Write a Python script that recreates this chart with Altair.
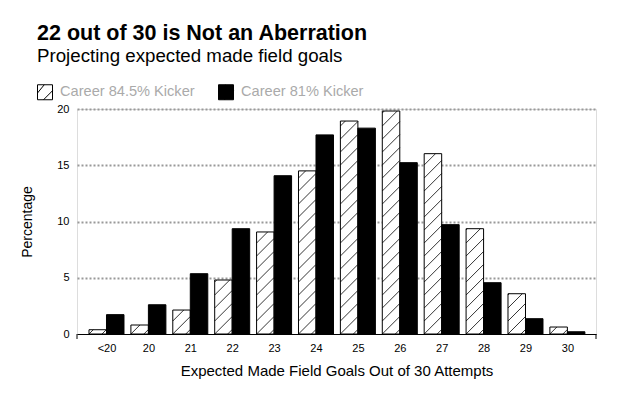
import json
import altair as alt
import pandas as pd

# ---- data ----
labels = ["<20", "20", "21", "22", "23", "24", "25", "26", "27", "28", "29", "30"]
series = ["Career 84.5% Kicker", "Career 81% Kicker"]
career_845 = [0.38, 0.80, 2.13, 4.80, 9.07, 14.50, 18.93, 19.82, 16.03, 9.36, 3.58, 0.62]
career_81 = [1.72, 2.60, 5.36, 9.36, 14.07, 17.70, 18.30, 15.23, 9.72, 4.56, 1.36, 0.20]
y_ticks = [0, 5, 10, 15, 20]

# ---- layout / style constants ----
W, H = 519, 225
XDOM = [-0.704, 11.683]
YDOM = [0, 20]
PX = W / (XDOM[1] - XDOM[0])   # px per x unit
PY = H / (YDOM[1] - YDOM[0])   # px per y unit
BW = 17.5 / PX                 # width of one bar in x units
S = 13.0                       # hatch spacing in px
FONT = "Liberation Sans"

rows = []
for i, lab in enumerate(labels):
    rows.append({"idx": i, "label": lab, "series": series[0], "sidx": 0, "value": career_845[i]})
    rows.append({"idx": i, "label": lab, "series": series[1], "sidx": 1, "value": career_81[i]})
df = pd.DataFrame(rows)

xscale = alt.Scale(domain=XDOM, nice=False, zero=False)
yscale = alt.Scale(domain=YDOM, nice=False, zero=False)

legend_path = "M-1,-1H1V1H-1Z M-1,0.1L-0.1,-1 M-0.2,1L1,-0.2"

base = alt.Chart(df)

bars = base.transform_calculate(
    x0=f"datum.idx - {BW} + datum.sidx*{BW}",
    x1=f"datum.idx + datum.sidx*{BW}",
).mark_rect(stroke="black", strokeWidth=1).encode(
    x=alt.X(
        "x0:Q",
        scale=xscale,
        axis=alt.Axis(
            values=list(range(len(labels))),
            labelExpr=f"{json.dumps(labels)}[datum.value]",
            ticks=False,
            grid=False,
            domainColor="black",
            domainWidth=1,
            labelFontSize=11,
            labelColor="black",
            labelFont=FONT,
            labelPadding=8,
            labelFlush=False,
            labelOverlap=False,
            title="Expected Made Field Goals Out of 30 Attempts",
            titleFont=FONT,
            titleFontSize=15,
            titleFontWeight="normal",
            titleColor="black",
            titlePadding=10,
        ),
    ),
    x2="x1:Q",
    y=alt.Y(
        "value:Q",
        scale=yscale,
        axis=alt.Axis(
            values=y_ticks,
            domain=False,
            ticks=False,
            grid=True,
            gridDash=[2, 2],
            gridColor="#999999",
            gridWidth=2,
            gridOpacity={"expr": "datum.value == 0 ? 0 : 1"},
            labelFontSize=11,
            labelColor="black",
            labelFont=FONT,
            labelPadding=8,
            title="Percentage",
            titleFont=FONT,
            titleFontSize=14,
            titleFontWeight="normal",
            titleColor="black",
            titlePadding=22,
        ),
    ),
    y2=alt.datum(0),
    fill=alt.Fill(
        "series:N",
        scale=alt.Scale(domain=series, range=["white", "black"]),
        legend=alt.Legend(
            orient="none",
            legendX=-40,
            legendY=-25,
            direction="horizontal",
            title=None,
            symbolType=legend_path,
            symbolSize=225,
            symbolStrokeColor="black",
            symbolStrokeWidth=1,
            labelFontSize=14.6,
            labelFont=FONT,
            labelColor="#aaaaaa",
            labelOffset=7,
            columnPadding=21,
            padding=0,
        ),
    ),
)

hatch = base.transform_filter("datum.sidx == 0").transform_calculate(
    hpx=f"datum.value * {PY}",
    wpx=f"{BW * PX}",
).transform_calculate(
    ks=f"sequence(-floor(datum.wpx / {S}), ceil(datum.hpx / {S}) + 1)"
).transform_flatten(["ks"]).transform_calculate(
    c=f"datum.ks * {S}"
).transform_calculate(
    u0="max(0, -datum.c)",
    u1="min(datum.wpx, datum.hpx - datum.c)",
).transform_filter("datum.u1 > datum.u0").transform_calculate(
    hx0=f"datum.idx - {BW} + datum.u0 / {PX}",
    hx1=f"datum.idx - {BW} + datum.u1 / {PX}",
    hy0=f"(datum.u0 + datum.c) / {PY}",
    hy1=f"(datum.u1 + datum.c) / {PY}",
).mark_rule(color="black", strokeWidth=0.8).encode(
    x=alt.X("hx0:Q", scale=xscale),
    x2="hx1:Q",
    y=alt.Y("hy0:Q", scale=yscale),
    y2="hy1:Q",
)

ends = pd.DataFrame({"x": XDOM})
end_ticks = alt.Chart(ends).mark_rule(color="black", strokeWidth=1).encode(
    x=alt.X("x:Q", scale=xscale),
    y=alt.value(H),
    y2=alt.value(H + 5),
)

chart = alt.layer(bars, hatch, end_ticks).properties(
    width=W,
    height=H,
    padding={"top": 14, "left": 12, "right": 5, "bottom": 5},
    title=alt.TitleParams(
        text="22 out of 30 is Not an Aberration",
        subtitle="Projecting expected made field goals",
        anchor="start",
        frame="group",
        dx=-40,
        font=FONT,
        fontSize=21.5,
        fontWeight="bold",
        color="black",
        subtitleFont=FONT,
        subtitleFontSize=18.7,
        subtitleColor="black",
        subtitlePadding=3,
        offset=18,
    ),
).configure_view(stroke=None).configure(background="white")

chart.save("out.html", embed_options={"renderer": "svg", "actions": False})
